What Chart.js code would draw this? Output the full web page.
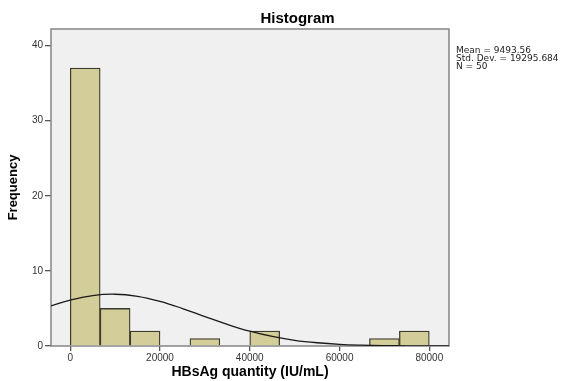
<!DOCTYPE html>
<html>
<head>
<meta charset="utf-8">
<script src="https://cdn.jsdelivr.net/npm/chart.js@4"></script>
<style>
html,body{margin:0;padding:0;background:#fff;}
#wrap{width:561px;height:381px;position:relative;}
</style>
</head>
<body>
<div id="wrap"><canvas id="c" width="561" height="381"></canvas></div>
<script>
// Histogram bins (bin centres, IU/mL) and frequencies
const binCenters = [3333.3, 10000, 16666.7, 23333.3, 30000, 36666.7, 43333.3, 50000, 56666.7, 63333.3, 70000, 76666.7];
const frequencies = [37, 5, 2, 0, 1, 0, 2, 0, 0, 0, 1, 2];
// Normal curve
const curveX = [-4290, 0, 5000, 10000, 15000, 20000, 25000, 30000, 35000, 40000, 45000, 50000, 55000, 60000, 65000, 70000, 75000, 80000, 84390];
const curveY = [5.34, 6.10, 6.71, 6.89, 6.61, 5.94, 4.99, 3.92, 2.88, 1.97, 1.27, 0.76, 0.43, 0.22, 0.11, 0.05, 0.02, 0.01, 0.003];
const xTicks = [0, 20000, 40000, 60000, 80000];
const yTicks = [0, 10, 20, 30, 40];
const statsLines = ['Mean = 9493.56', 'Std. Dev. = 19295.684', 'N = 50'];
const chartTitle = 'Histogram';
const xTitle = 'HBsAg quantity (IU/mL)';
const yTitle = 'Frequency';

const FONT = '"Liberation Sans", Arial, sans-serif';

const decor = {
  id: 'decor',
  beforeDraw(chart) {
    const {ctx, chartArea: a} = chart;
    ctx.save();
    ctx.fillStyle = '#f0f0f0';
    ctx.fillRect(a.left, a.top, a.right - a.left, a.bottom - a.top);
    ctx.restore();
  },
  beforeDatasetsDraw(chart) {
    const {ctx, chartArea: a} = chart;
    ctx.save();
    ctx.strokeStyle = '#858585';
    ctx.lineWidth = 1.5;
    ctx.strokeRect(a.left, a.top, a.right - a.left, a.bottom - a.top);
    ctx.restore();
  },
  afterDraw(chart) {
    const {ctx} = chart;
    ctx.save();
    ctx.fillStyle = '#000';
    ctx.font = 'bold 15px ' + FONT;
    ctx.textAlign = 'center';
    ctx.textBaseline = 'middle';
    ctx.fillText(chartTitle, 297.5, 19);
    ctx.restore();
    ctx.save();
    ctx.font = '9px "DejaVu Sans", sans-serif';
    ctx.fillStyle = '#222';
    ctx.textAlign = 'left';
    ctx.textBaseline = 'top';
    statsLines.forEach((t, i) => ctx.fillText(t, 456, 46 + i * 8));
    ctx.restore();
  }
};

new Chart(document.getElementById('c'), {
  type: 'bar',
  data: {
    datasets: [
      {
        type: 'line',
        data: curveX.map((x, i) => ({x: x, y: curveY[i]})),
        borderColor: '#1a1a1a',
        borderWidth: 1.3,
        pointRadius: 0,
        tension: 0.4,
        fill: false,
        order: 0
      },
      {
        type: 'bar',
        data: binCenters.map((x, i) => ({x: x, y: frequencies[i]})),
        backgroundColor: '#d3cd9a',
        borderColor: '#3b3a2c',
        borderWidth: 1.3,
        borderSkipped: 'bottom',
        barPercentage: 1,
        categoryPercentage: 1,
        order: 1
      }
    ]
  },
  options: {
    responsive: false,
    animation: false,
    layout: {padding: {left: 0, top: 29, right: 112, bottom: 0}},
    plugins: {legend: {display: false}, tooltip: {enabled: false}, title: {display: false}},
    scales: {
      x: {
        type: 'linear',
        min: -4290,
        max: 84390,
        offset: false,
        afterBuildTicks: s => { s.ticks = xTicks.map(v => ({value: v})); },
        afterFit: s => { s.height = 35; },
        grid: {offset: false, drawOnChartArea: false, drawTicks: true, tickLength: 5, tickColor: '#555', lineWidth: 1.3},
        border: {display: false},
        ticks: {color: '#333', font: {size: 10, family: FONT}, padding: 1, maxRotation: 0, callback: v => String(v)},
        title: {display: true, text: xTitle, color: '#000', font: {size: 14, weight: 'bold', family: FONT}, padding: {top: 0, bottom: 0}}
      },
      y: {
        min: 0,
        max: 42.2,
        afterBuildTicks: s => { s.ticks = yTicks.map(v => ({value: v})); },
        afterFit: s => { s.width = 51; },
        grid: {drawOnChartArea: false, drawTicks: true, tickLength: 6, tickColor: '#555', lineWidth: 1.3},
        border: {display: false},
        ticks: {color: '#333', font: {size: 10, family: FONT}, padding: 2},
        title: {display: true, text: yTitle, color: '#000', font: {size: 13, weight: 'bold', family: FONT}, padding: {top: 6, bottom: 0}}
      }
    }
  },
  plugins: [decor]
});
</script>
</body>
</html>
